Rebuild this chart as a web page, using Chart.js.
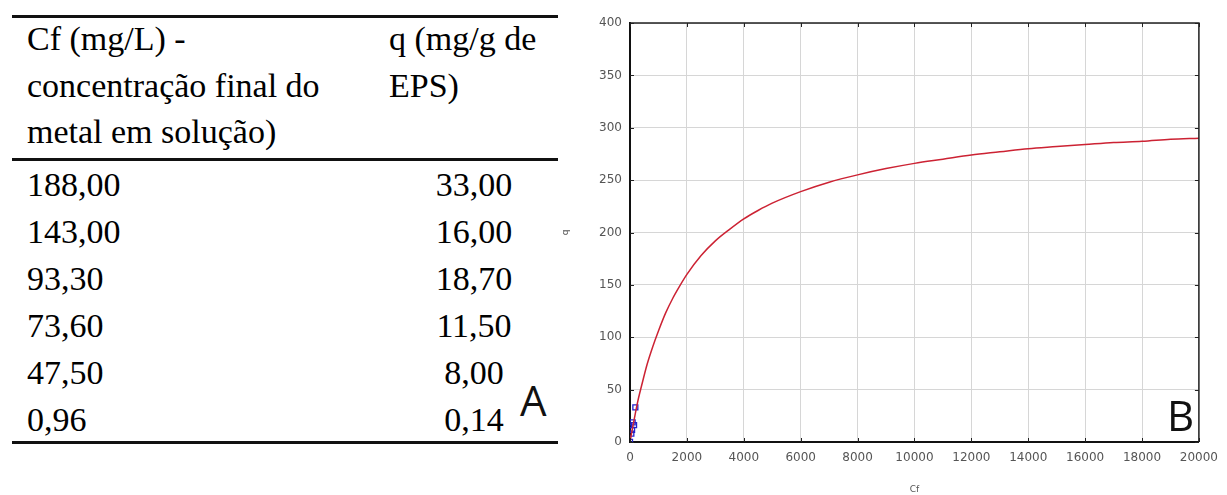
<!DOCTYPE html>
<html>
<head>
<meta charset="utf-8">
<script src="https://cdn.jsdelivr.net/npm/chart.js@4"></script>
<style>
	body { margin: 0; background: #fff; width: 1227px; height: 495px; position: relative; overflow: hidden; }
	.rule { position: absolute; left: 12px; width: 546px; background: #111; }
	.cell { position: absolute; font-family: "Liberation Serif", "Times New Roman", serif; font-size: 34px; color: #000; white-space: nowrap; line-height: 40px; }
	.num { width: 120px; text-align: center; }
	.panel { position: absolute; font-family: "Open Sans", sans-serif; font-size: 42px; color: #111; line-height: 1; }
	#wrap { position: absolute; left: 560px; top: 0; width: 667px; height: 495px; }
</style>
</head>
<body>
<div id="table"></div>
<div class="panel" style="left:520px; top:379px;">A</div>
<div id="wrap"><canvas id="chart" width="667" height="495"></canvas></div>
<div class="panel" style="left:1167px; top:394px;">B</div>
<script>
// measured values (table A)
const cfValues = [188.00, 143.00, 93.30, 73.60, 47.50, 0.96];
const qValues = [33.00, 16.00, 18.70, 11.50, 8.00, 0.14];

// fitted curve
const curveCf = [0, 100, 200, 300, 400, 600, 800, 1000, 1250, 1500, 1750, 2000, 2500, 3000, 3500, 4000, 4500, 5000, 6000, 7000, 8000, 9000, 10000, 11000, 12000, 13000, 14000, 15000, 16000, 17000, 18000, 19000, 20000];
const curveQ = [0, 15, 29, 42, 53, 74, 91, 106, 123, 137, 149, 160, 178, 192, 203, 213, 221, 228, 239, 248, 255, 261, 266, 270, 274, 277, 280, 282, 284, 286, 287, 289, 290];

const xTicks = [0, 2000, 4000, 6000, 8000, 10000, 12000, 14000, 16000, 18000, 20000];
const yTicks = [0, 50, 100, 150, 200, 250, 300, 350, 400];

// table
const table = document.getElementById('table');
function add(html, cls, left, top) {
	const d = document.createElement('div');
	d.className = cls;
	d.style.left = left + 'px';
	d.style.top = top + 'px';
	d.innerHTML = html;
	table.appendChild(d);
}
[[15, 3], [158, 3], [441, 3]].forEach(r => {
	const d = document.createElement('div');
	d.className = 'rule';
	d.style.top = r[0] + 'px';
	d.style.height = r[1] + 'px';
	table.appendChild(d);
});
const head1 = ['Cf (mg/L) -', 'concentração final do', 'metal em solução)'];
const head2 = ['q (mg/g de', 'EPS)'];
head1.forEach((t, i) => add(t, 'cell', 27, 19 + i * 46.5));
head2.forEach((t, i) => add(t, 'cell', 389, 19 + i * 46.5));
const fmt = v => v.toFixed(2).replace('.', ',');
cfValues.forEach((v, i) => {
	add(fmt(v), 'cell', 27, 165 + i * 47);
	add(fmt(qValues[i]), 'cell num', 414, 165 + i * 47);
});

// inner tick marks and frame
const frame = {
	id: 'frame',
	afterDraw(chart) {
		const { ctx, chartArea: a, scales } = chart;
		ctx.save();
		ctx.strokeStyle = '#222';
		ctx.lineWidth = 1;
		ctx.beginPath();
		xTicks.forEach(v => {
			const x = Math.round(scales.x.getPixelForValue(v)) + 0.5;
			ctx.moveTo(x, a.top); ctx.lineTo(x, a.top + 4);
			ctx.moveTo(x, a.bottom); ctx.lineTo(x, a.bottom - 4);
		});
		yTicks.forEach(v => {
			const y = Math.round(scales.y.getPixelForValue(v)) + 0.5;
			ctx.moveTo(a.left, y); ctx.lineTo(a.left + 4, y);
			ctx.moveTo(a.right, y); ctx.lineTo(a.right - 4, y);
		});
		ctx.stroke();
		ctx.lineWidth = 1.5;
		ctx.beginPath();
		ctx.moveTo(a.left, a.top); ctx.lineTo(a.right, a.top); ctx.lineTo(a.right, a.bottom);
		ctx.stroke();
		ctx.restore();
	}
};

const tickFont = { family: 'DejaVu Sans', size: 12 };

new Chart(document.getElementById('chart'), {
	type: 'scatter',
	data: {
		datasets: [{
			label: 'ajuste',
			data: curveCf.map((c, i) => ({ x: c, y: curveQ[i] })),
			showLine: true,
			borderColor: '#cc2233',
			borderWidth: 1.5,
			pointRadius: 0,
			cubicInterpolationMode: 'monotone'
		}, {
			label: 'q',
			data: cfValues.map((c, i) => ({ x: c, y: qValues[i] })),
			pointStyle: 'rect',
			pointRadius: 3.5,
			borderColor: '#2222cc',
			backgroundColor: 'rgba(0,0,0,0)',
			borderWidth: 1.3
		}]
	},
	options: {
		responsive: false,
		animation: false,
		layout: { padding: { left: 0, right: 21, top: 23, bottom: 0 } },
		plugins: { legend: { display: false }, tooltip: { enabled: false } },
		scales: {
			x: {
				min: 0, max: 20000,
				afterFit: s => { s.height = 53; },
				afterBuildTicks: s => { s.ticks = xTicks.map(v => ({ value: v })); },
				ticks: { font: tickFont, color: '#555', padding: 9, maxRotation: 0, callback: v => String(v) },
				grid: { color: '#d6d6d6', drawTicks: false },
				border: { color: '#111', width: 2 },
				title: { display: true, text: 'Cf', font: { family: 'DejaVu Sans', size: 9 }, color: '#555', padding: { top: 10, bottom: 0 } }
			},
			y: {
				min: 0, max: 400,
				afterFit: s => { s.width = 70; },
				afterBuildTicks: s => { s.ticks = yTicks.map(v => ({ value: v })); },
				ticks: { font: tickFont, color: '#555', padding: 8, callback: v => String(v) },
				grid: { color: '#d6d6d6', drawTicks: false },
				border: { color: '#111', width: 2 },
				title: { display: true, text: 'q', font: { family: 'DejaVu Sans', size: 9 }, color: '#555', padding: { top: 0, bottom: 0 } }
			}
		}
	},
	plugins: [frame]
});
</script>
</body>
</html>
